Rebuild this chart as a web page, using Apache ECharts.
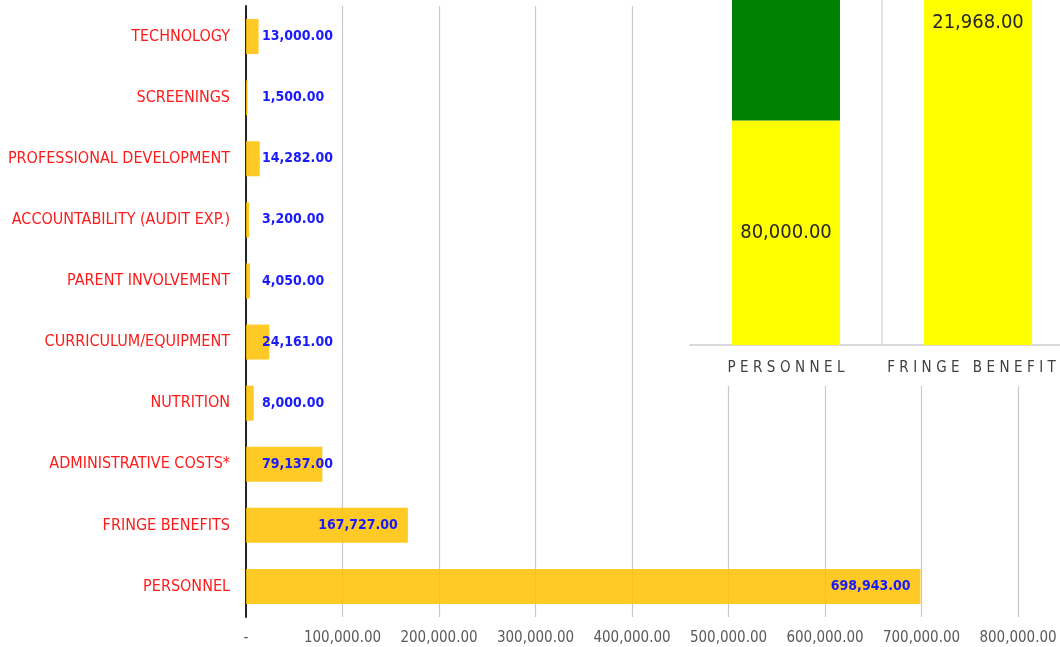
<!DOCTYPE html>
<html>
<head>
<meta charset="UTF-8">
<title>Budget chart</title>
<script type="text/javascript" src="https://cdn.jsdelivr.net/npm/echarts@6.0.0/dist/echarts.min.js"></script>
<style>
	html, body { margin: 0; padding: 0; background: #ffffff; }
	#myEchart1 { width: 1060px; height: 647px; }
</style>
</head>
<body>
	<div id="myEchart1"></div>

<script type="text/javascript">
// main chart data (bottom -> top)
var categories = ["PERSONNEL", "FRINGE BENEFITS", "ADMINISTRATIVE COSTS*", "NUTRITION",
	"CURRICULUM/EQUIPMENT", "PARENT INVOLVEMENT", "ACCOUNTABILITY (AUDIT EXP.)",
	"PROFESSIONAL DEVELOPMENT", "SCREENINGS", "TECHNOLOGY"];
var amounts = [698943, 167727, 79137, 8000, 24161, 4050, 3200, 14282, 1500, 13000];
var xTicks = [0, 100000, 200000, 300000, 400000, 500000, 600000, 700000, 800000];

// inset chart data (cut off at the top in the picture)
var insetCategories = ["PERSONNEL", "FRINGE BENEFITS"];
var insetYellow = [80000, 21968];
var insetGreen = [60000, 0];

var FONT = "'DejaVu Sans Condensed', 'Liberation Sans', sans-serif";

document.addEventListener("DOMContentLoaded", function(){
	fnMakeEchart();
});

// number -> "1,234.00", zero -> "-"
function fnMoney(v){
	if (v === 0) return "-";
	return Number(v).toLocaleString("en-US", {minimumFractionDigits: 2, maximumFractionDigits: 2});
}

function fnMakeEchart(){
	var myEchart1 = echarts.init(document.getElementById("myEchart1"));

	// bar labels: inside end for long bars, next to the base for short ones
	var barData = amounts.map(function(v){
		var big = v > 100000;
		return {
			value: v,
			label: big ? {position: "insideRight", distance: 10} : {position: "insideLeft", distance: 16}
		};
	});

	var option = {
		animation: false,
		backgroundColor: "#ffffff",
		// white panel under the inset chart
		graphic: [{
			type: "rect",
			z: 1,
			left: 700, top: 0,
			shape: {width: 360, height: 386},
			style: {fill: "#ffffff"}
		}],
		grid: [
			{left: 246, top: 6, width: 772, height: 611, outerBoundsMode: "none"},
			{left: 690, top: 0, width: 384, height: 345, outerBoundsMode: "none"}
		],
		xAxis: [
			{
				type: "value",
				gridIndex: 0,
				min: xTicks[0],
				max: xTicks[xTicks.length - 1],
				interval: xTicks[1] - xTicks[0],
				axisLine: {show: false},
				axisTick: {show: false},
				splitLine: {show: true, lineStyle: {color: "#c8c8c8", width: 1.2}},
				axisLabel: {
					formatter: fnMoney,
					color: "#595959",
					fontSize: 15,
					fontFamily: FONT,
					margin: 14
				}
			},
			{
				type: "category",
				gridIndex: 1,
				z: 3,
				data: insetCategories,
				axisLine: {show: true, lineStyle: {color: "#d9d9d9", width: 2}},
				axisTick: {show: false},
				splitLine: {
					show: true,
					interval: 0,
					// only the line between the two columns
					lineStyle: {color: ["rgba(0,0,0,0)", "#d9d9d9", "rgba(0,0,0,0)"], width: 1.5}
				},
				axisLabel: {
					interval: 0,
					color: "#404040",
					fontSize: 15,
					fontFamily: FONT,
					margin: 16,
					formatter: function(v){ return v.split("").join("\u2004"); }
				}
			}
		],
		yAxis: [
			{
				type: "category",
				gridIndex: 0,
				data: categories,
				axisLine: {show: true, lineStyle: {color: "#262626", width: 2}},
				axisTick: {show: false},
				axisLabel: {
					color: "#ff1a1a",
					fontSize: 16,
					fontFamily: FONT,
					margin: 16
				}
			},
			{
				type: "value",
				gridIndex: 1,
				min: 0,
				max: 123000,
				show: false
			},
			{
				type: "value",
				gridIndex: 1,
				min: 0,
				max: 20000,
				show: false
			}
		],
		series: [
			{
				name: "amount",
				type: "bar",
				xAxisIndex: 0,
				yAxisIndex: 0,
				barWidth: 35,
				data: barData,
				itemStyle: {color: "rgba(255,192,0,0.85)"},
				label: {
					show: true,
					formatter: function(p){ return fnMoney(p.value); },
					color: "#1a1aff",
					fontWeight: "bold",
					fontSize: 14,
					fontFamily: FONT
				}
			},
			// inset: personnel column
			{
				type: "bar",
				xAxisIndex: 1,
				yAxisIndex: 1,
				stack: "inset",
				z: 3,
				barWidth: 108,
				data: [insetYellow[0], "-"],
				itemStyle: {color: "#ffff00"},
				label: {
					show: true,
					position: "inside",
					formatter: function(p){ return fnMoney(p.value); },
					color: "#262626",
					fontSize: 20,
					fontFamily: FONT
				}
			},
			{
				type: "bar",
				xAxisIndex: 1,
				yAxisIndex: 1,
				stack: "inset",
				z: 3,
				barWidth: 108,
				data: [insetGreen[0], "-"],
				itemStyle: {color: "#008000"},
				label: {show: false}
			},
			// inset: fringe benefits column
			{
				type: "bar",
				xAxisIndex: 1,
				yAxisIndex: 2,
				stack: "inset",
				z: 3,
				barWidth: 108,
				data: ["-", insetYellow[1]],
				itemStyle: {color: "#ffff00"},
				label: {
					show: true,
					position: "insideTop",
					distance: 13,
					formatter: function(p){ return fnMoney(p.value); },
					color: "#262626",
					fontSize: 20,
					fontFamily: FONT
				}
			}
		]
	};

	myEchart1.setOption(option, true);
};
</script>
</body>
</html>
